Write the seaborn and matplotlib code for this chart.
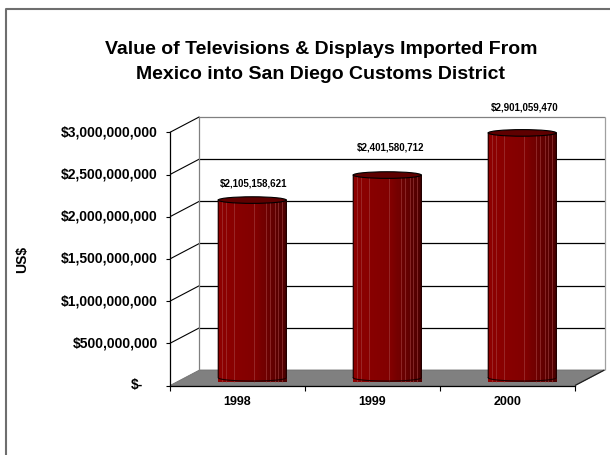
import numpy as np
import pandas as pd
import matplotlib
matplotlib.use("Agg")
import matplotlib.pyplot as plt
import matplotlib.transforms as mtransforms
from matplotlib.patches import Polygon, Rectangle, Ellipse
from matplotlib.lines import Line2D
import seaborn as sns

# ---- data -------------------------------------------------------------
years = ["1998", "1999", "2000"]
import_values = [2105158621, 2401580712, 2901059470]
value_labels = ["$2,105,158,621", "$2,401,580,712", "$2,901,059,470"]
y_ticks = [0, 500_000_000, 1_000_000_000, 1_500_000_000,
           2_000_000_000, 2_500_000_000, 3_000_000_000]
y_tick_labels = ["$-", "$500,000,000", "$1,000,000,000", "$1,500,000,000",
                 "$2,000,000,000", "$2,500,000,000", "$3,000,000,000"]
title_lines = ["Value of Televisions & Displays Imported From",
               "Mexico into San Diego Customs District"]
y_title = "US$"

# ---- layout (pixels) --------------------------------------------------
DPI = 100
W, H = 610, 455
FRONT_L, FRONT_R = 170, 575          # front plane of the plot box
FRONT_BOTTOM, FRONT_TOP = 385.5, 132.3
DEPTH_DX, DEPTH_DY = 29.5, 15.5       # shift from front plane to back wall
CYL_WIDTH = 0.504                     # cylinder width in category units
ELLIPSE_H = 6.6                       # apparent height of the cylinder caps
label_shift = [(1, 17), (3, 28), (2, 25)]   # data label nudges (px)

plt.rcParams["font.family"] = ["Liberation Sans", "DejaVu Sans"]
plt.rcParams["font.weight"] = "bold"

fig = plt.figure(figsize=(W / DPI, H / DPI), dpi=DPI)
fig.patch.set_facecolor("white")
ax = fig.add_axes([FRONT_L / W, 1 - FRONT_BOTTOM / H,
                   (FRONT_R - FRONT_L) / W, (FRONT_BOTTOM - FRONT_TOP) / H])

df = pd.DataFrame({"year": years, "value": import_values})
sns.barplot(data=df, x="year", y="value", color="#800000", saturation=1,
            width=CYL_WIDTH, errorbar=None, ax=ax, zorder=3)
bars = list(ax.patches)
ax.set_xlim(-0.5, 2.5)
ax.set_ylim(0, y_ticks[-1])
ax.set_xlabel("")
ax.set_ylabel("")
ax.patch.set_visible(False)

ident = mtransforms.IdentityTransform()


def px(x, y, depth=0.0):
    """Data point -> display pixels, pushed `depth` (0 front .. 1 back)."""
    X, Y = ax.transData.transform((x, y))
    return X + depth * DEPTH_DX, Y + depth * DEPTH_DY


def seg(p, q, color, lw, z):
    ax.add_line(Line2D([p[0], q[0]], [p[1], q[1]], color=color, lw=lw,
                       transform=ident, clip_on=False, zorder=z,
                       solid_capstyle="butt"))


x_lo, x_hi = ax.get_xlim()
y_top = y_ticks[-1]

# floor
floor = Polygon([px(x_lo, 0), px(x_hi, 0), px(x_hi, 0, 1), px(x_lo, 0, 1)],
                closed=True, facecolor="#808080", edgecolor="#707070", lw=0.6,
                transform=ident, clip_on=False, zorder=0.5)
ax.add_patch(floor)
seg(px(x_hi, 0), px(x_hi, 0, 1), "#202020", 0.9, 1.2)

# back wall and side wall gridlines
for t in y_ticks[1:]:
    c = "#808080" if t == y_top else "#000000"
    seg(px(x_lo, t, 1), px(x_hi, t, 1), c, 0.9, 1)
    seg(px(x_lo, t), px(x_lo, t, 1), "#000000", 0.8, 1)
seg(px(x_lo, 0, 1), px(x_lo, y_top, 1), "#808080", 0.9, 1)
seg(px(x_hi, 0, 1), px(x_hi, y_top, 1), "#a0a0a0", 0.9, 1)

# front axes
for side in ("top", "right"):
    ax.spines[side].set_visible(False)
for side in ("left", "bottom"):
    ax.spines[side].set_color("black")
    ax.spines[side].set_linewidth(0.9)
ax.set_yticks(y_ticks)
ax.tick_params(axis="y", left=True, direction="out", length=2.9, width=0.8,
               color="black", labelleft=False)
ax.set_xticks([-0.5, 0.5, 1.5, 2.5], minor=True)
ax.tick_params(axis="x", which="minor", bottom=True, direction="out",
               length=3.6, width=0.8, color="black")
ax.tick_params(axis="x", which="major", length=0, pad=7.5, labelsize=9)
for lab in ax.get_xticklabels():
    lab.set_fontweight("bold")

for t, lab in zip(y_ticks, y_tick_labels):
    extra = 15 if t == 0 else 0
    ax.annotate(lab, xy=(x_lo, t), xytext=(-12.3 - extra, 0),
                textcoords="offset pixels", ha="right", va="center",
                fontsize=10, fontweight="bold", annotation_clip=False)

# cylinders: seaborn bars pushed to mid-depth, then shaded and capped
half = mtransforms.ScaledTranslation(DEPTH_DX / 2 / DPI, DEPTH_DY / 2 / DPI,
                                     fig.dpi_scale_trans)
light_lines = [0.06, 0.11, 0.23, 0.52, 0.70, 0.76, 0.83, 0.88, 0.93]
n_strips = 60
for bar in bars:
    bar.set_transform(ax.transData + half)
    bar.set_edgecolor("none")
    bar.set_clip_on(False)
    x0, y0 = px(bar.get_x(), 0, 0.5)
    x1, y1 = px(bar.get_x() + bar.get_width(), bar.get_height(), 0.5)
    cx, a, b = (x0 + x1) / 2, (x1 - x0) / 2, ELLIPSE_H / 2

    th = np.linspace(np.pi, 2 * np.pi, 60)
    outline = np.vstack([[x0, y1], [x0, y0],
                         np.column_stack([cx + a * np.cos(th), y0 + b * np.sin(th)]),
                         [x1, y0], [x1, y1]])
    clip = Polygon(outline, closed=True, transform=ident)

    edges = np.linspace(x0, x1, n_strips + 1)
    for k in range(n_strips):
        t = (k + 0.5) / n_strips
        if t < 0.55:
            red = 0.555 - 0.09 * t
        else:
            red = 0.505 - 0.21 * (t - 0.55) / 0.45
        col = (red, 0.0, 0.0)
        r = Rectangle((edges[k], y0 - b - 1), edges[k + 1] - edges[k] + 0.3,
                      y1 - y0 + b + 1, facecolor=col, edgecolor="none",
                      transform=ident, clip_on=False, zorder=3.1)
        ax.add_patch(r)
        r.set_clip_path(clip)
    for t in light_lines:
        xl = x0 + t * (x1 - x0)
        ln = Line2D([xl, xl], [y0 - b - 1, y1], color="#a84848", lw=0.5,
                    alpha=0.75, transform=ident, clip_on=False, zorder=3.15)
        ax.add_line(ln)
        ln.set_clip_path(clip)
    ax.add_line(Line2D(outline[:, 0], outline[:, 1], color="#1a0000", lw=0.8,
                       transform=ident, clip_on=False, zorder=3.2))
    ax.add_patch(Ellipse((cx, y1), 2 * a, ELLIPSE_H, facecolor="#5e0000",
                         edgecolor="#000000", lw=0.8, transform=ident,
                         clip_on=False, zorder=3.3))

# value labels above each cylinder
for i, (v, lab) in enumerate(zip(import_values, value_labels)):
    dx, dy = label_shift[i]
    ax.annotate(lab, xy=(i, v),
                xytext=(DEPTH_DX / 2 + dx, DEPTH_DY / 2 + dy),
                textcoords="offset pixels", ha="center", va="center",
                fontsize=7, fontweight="bold", annotation_clip=False)

# title, axis title, outer frame
fig.text(321, H - 54, title_lines[0], transform=ident, ha="center",
         va="baseline", fontsize=14, fontweight="bold")
fig.text(320, H - 79, title_lines[1], transform=ident, ha="center",
         va="baseline", fontsize=14, fontweight="bold")
fig.text(22.5, H - 259.3, y_title, transform=ident, rotation=90,
         ha="center", va="center", fontsize=10, fontweight="bold")
fig.add_artist(Line2D([6, 6, W + 5], [-5, H - 9.3, H - 9.3], color="#6e6e6e",
                      lw=1.5, transform=ident))

fig.savefig("out.png", dpi=DPI)
